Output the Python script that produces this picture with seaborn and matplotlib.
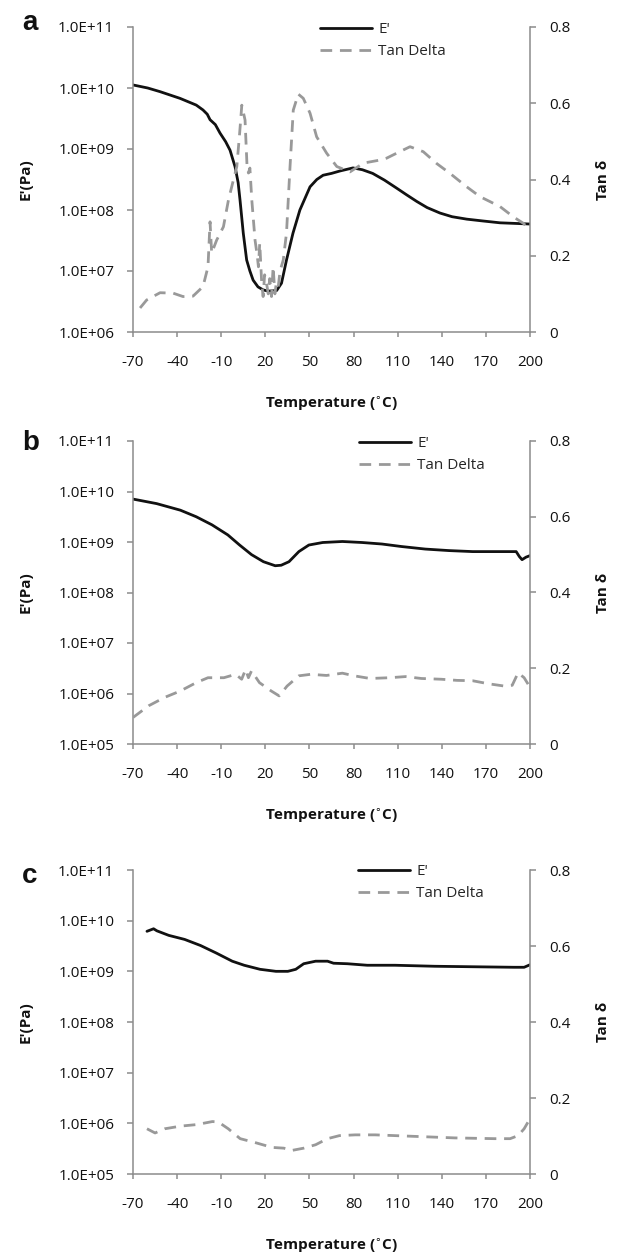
import numpy as np
import pandas as pd
import matplotlib
matplotlib.use("Agg")
import matplotlib.pyplot as plt
import seaborn as sns
from matplotlib.ticker import FixedLocator, FuncFormatter

sns.set_theme(style="white")
plt.rcParams["font.family"] = ["Open Sans", "DejaVu Sans"]

# ---------------- data ----------------
temp_ticks = [-70, -40, -10, 20, 50, 80, 110, 140, 170, 200]
tan_ticks = [0, 0.2, 0.4, 0.6, 0.8]

# panel a
a_E_T = [-70, -60, -51.6, -38, -27, -22.4, -19.5, -17.6, -14, -10.8, -7, -4, -0.6, 1.5, 2.8,
         5, 7.3, 9.5, 11.7, 15, 18.5, 22, 27.7, 31, 34.4, 38.8, 43.5, 50.4, 55, 59.3, 65,
         70.8, 79.6, 86, 93, 101, 109.2, 116, 123, 130, 138.8, 147, 157, 168, 179.6, 190, 200]
a_E_log = [10.05, 10.0, 9.94, 9.83, 9.72, 9.64, 9.57, 9.48, 9.40, 9.26, 9.12, 8.98, 8.71,
           8.45, 8.16, 7.62, 7.18, 7.0, 6.85, 6.74, 6.69, 6.67, 6.68, 6.80, 7.18, 7.62, 8.0,
           8.38, 8.50, 8.57, 8.60, 8.64, 8.69, 8.66, 8.60, 8.49, 8.36, 8.25, 8.14, 8.04, 7.95,
           7.89, 7.85, 7.82, 7.79, 7.78, 7.77]
a_tan_T = [-65.2, -60.7, -51.6, -42.8, -36, -29.2, -22.4, -19, -17.6, -16.5, -13.1, -8.5, -5.1,
           -1.7, 0.6, 2.5, 4, 6.2, 7.5, 8.5, 9.5, 10.8, 13, 14.5, 15.3, 16.2, 17.5, 18.5, 19.5,
           20.8, 22, 23, 24.2, 25.3, 26.5, 27.5, 28.8, 30, 32.2, 34.4, 36.8, 39, 42.4, 45.8,
           50.4, 54.9, 61.7, 68.6, 77.6, 86.7, 98, 102.5, 109.3, 118.4, 127.4, 136.5, 145.6,
           156.9, 166, 179.6, 188.7, 195.5, 200]
a_tan = [0.063, 0.084, 0.103, 0.102, 0.093, 0.094, 0.119, 0.171, 0.289, 0.207, 0.241, 0.276,
         0.346, 0.399, 0.434, 0.52, 0.595, 0.556, 0.44, 0.417, 0.43, 0.346, 0.241, 0.20, 0.171,
         0.233, 0.13, 0.093, 0.15, 0.128, 0.10, 0.14, 0.093, 0.171, 0.10, 0.13, 0.119, 0.16,
         0.189, 0.26, 0.434, 0.582, 0.624, 0.613, 0.574, 0.512, 0.469, 0.434, 0.42, 0.443,
         0.451, 0.456, 0.469, 0.486, 0.473, 0.442, 0.416, 0.381, 0.355, 0.329, 0.302, 0.285,
         0.268]

# panel b
b_E_T = [-70, -53.9, -37.8, -27, -16.3, -5.5, 2.5, 10.6, 18.7, 26.7, 30.8, 36.1, 42.8, 49.6,
         59, 72.4, 85.8, 99.3, 112.7, 128.8, 144.9, 161, 174.5, 190.6, 192.8, 194.6, 197.3, 200]
b_E_log = [9.85, 9.76, 9.63, 9.50, 9.34, 9.14, 8.94, 8.75, 8.61, 8.53, 8.54, 8.61, 8.81, 8.94,
           8.99, 9.01, 8.99, 8.96, 8.91, 8.86, 8.83, 8.81, 8.81, 8.81, 8.71, 8.65, 8.70, 8.73]
b_tan_T = [-70, -59.3, -48.5, -37.8, -27, -19, -8.2, -0.2, 3.9, 6.6, 8.5, 10.6, 16, 24, 29.4,
           34.8, 42.8, 50.9, 61.6, 72.4, 80.4, 91.2, 104.6, 115.4, 126.1, 139.6, 150.3, 161,
           171.8, 182.5, 187.9, 191.9, 196, 198.7]
b_tan = [0.070, 0.101, 0.123, 0.140, 0.162, 0.175, 0.175, 0.184, 0.171, 0.197, 0.175, 0.193,
         0.162, 0.140, 0.127, 0.153, 0.180, 0.184, 0.181, 0.187, 0.180, 0.173, 0.175, 0.178,
         0.173, 0.171, 0.168, 0.167, 0.159, 0.153, 0.155, 0.188, 0.175, 0.158]

# panel c
c_E_T = [-60.5, -56, -53.8, -45.7, -34.9, -24.1, -13.3, -2.5, 5.6, 16.4, 27.2, 35.3, 40.7,
         46.1, 54.2, 62.3, 66.4, 75.8, 89.3, 108.2, 135.2, 162.2, 189.2, 196, 200]
c_E_log = [9.79, 9.84, 9.80, 9.71, 9.63, 9.51, 9.36, 9.20, 9.12, 9.04, 9.00, 9.00, 9.04, 9.15,
           9.20, 9.20, 9.16, 9.15, 9.12, 9.12, 9.10, 9.09, 9.08, 9.08, 9.13]
c_tan_T = [-60.5, -55, -48.4, -37.6, -26.8, -16, -12, -5.2, 2.9, 13.7, 24.5, 32.6, 38, 46.1,
           54.2, 62.3, 70.4, 81.2, 94.7, 108.2, 121.7, 135.2, 148.7, 162.2, 175.7, 186.5,
           191.9, 196, 198.7]
c_tan = [0.119, 0.108, 0.119, 0.126, 0.130, 0.138, 0.137, 0.119, 0.093, 0.082, 0.070, 0.068,
         0.062, 0.068, 0.077, 0.093, 0.101, 0.103, 0.103, 0.101, 0.099, 0.097, 0.095, 0.094,
         0.093, 0.093, 0.101, 0.119, 0.137]

panels = [
    dict(letter="a", E_T=a_E_T, E_log=a_E_log, tan_T=a_tan_T, tan=a_tan, ymin_exp=6,
         top=27, bottom=332, leg=(320, 22)),
    dict(letter="b", E_T=b_E_T, E_log=b_E_log, tan_T=b_tan_T, tan=b_tan, ymin_exp=5,
         top=441, bottom=744, leg=(359, 436)),
    dict(letter="c", E_T=c_E_T, E_log=c_E_log, tan_T=c_tan_T, tan=c_tan, ymin_exp=5,
         top=870, bottom=1174, leg=(358, 864)),
]

W, H = 620, 1256
fig = plt.figure(figsize=(W / 100, H / 100), dpi=100)
LEFT, RIGHT = 133, 530
SPINE = "#8c8c8c"
FS = 11

def sci(v, pos):
    e = int(round(np.log10(v)))
    return f"1.0E+{e:02d}"

for p in panels:
    h = p["bottom"] - p["top"]
    ax = fig.add_axes([LEFT / W, 1 - p["bottom"] / H, (RIGHT - LEFT) / W, h / H])
    ax2 = ax.twinx()
    dfE = pd.DataFrame({"T": p["E_T"], "E": 10 ** np.array(p["E_log"])})
    dft = pd.DataFrame({"T": p["tan_T"], "tan": p["tan"]})
    sns.lineplot(data=dfE, x="T", y="E", ax=ax, color="#111111", lw=2.0, sort=False,
                 label="E'", legend=False)
    sns.lineplot(data=dft, x="T", y="tan", ax=ax2, color="#999999", lw=2.0, sort=False,
                 label="Tan Delta", legend=False)
    ax2.lines[-1].set_dashes((4.2, 2.8))
    ax.set_yscale("log")
    ax.set_ylim(10 ** p["ymin_exp"], 1e11)
    ax.set_xlim(-70, 200)
    ax2.set_ylim(0, 0.8)
    ax.yaxis.set_major_locator(FixedLocator([10.0 ** e for e in range(p["ymin_exp"], 12)]))
    ax.yaxis.set_minor_locator(FixedLocator([]))
    ax.yaxis.set_major_formatter(FuncFormatter(sci))
    ax.xaxis.set_major_locator(FixedLocator(temp_ticks))
    ax.set_xticklabels([str(t) for t in temp_ticks])
    ax2.yaxis.set_major_locator(FixedLocator(tan_ticks))
    ax2.set_yticklabels(["0", "0.2", "0.4", "0.6", "0.8"])
    for a_ in (ax, ax2):
        for s in a_.spines.values():
            s.set_color(SPINE)
            s.set_linewidth(1.1)
        a_.spines["top"].set_visible(False)
        a_.grid(False)
        a_.set_facecolor("none")
    ax.spines["right"].set_visible(False)
    ax2.spines["left"].set_visible(False)
    ax2.spines["bottom"].set_visible(False)
    ax.tick_params(axis="y", which="both", left=True, direction="out", length=4.5, width=1.1,
                   color=SPINE, pad=9, labelsize=FS, labelcolor="#111111")
    ax.tick_params(axis="x", bottom=True, direction="out", length=3.5, width=1.1,
                   color=SPINE, pad=13, labelsize=FS, labelcolor="#111111")
    ax2.tick_params(axis="y", right=True, direction="out", length=4.5, width=1.1,
                    color=SPINE, pad=9, labelsize=FS, labelcolor="#111111")
    ax.set_xlabel("Temperature ($^{\\circ}$C)", fontsize=FS, fontweight="bold", color="#111111")
    ax.xaxis.set_label_coords(0.5, -63 / h)
    ax.set_ylabel("E'(Pa)", fontsize=FS, fontweight="bold", color="#111111")
    ax.yaxis.set_label_coords((33 - LEFT) / (RIGHT - LEFT), 0.5)
    ax2.set_ylabel("Tan δ", fontsize=FS, fontweight="bold", color="#111111")
    ax2.yaxis.set_label_coords((596 - LEFT) / (RIGHT - LEFT), 0.5)
    handles = [ax.lines[0], ax2.lines[-1]]
    lx, ly = p["leg"]
    ax2.legend(handles=handles, labels=["E'", "Tan Delta"], loc="upper left",
               bbox_to_anchor=(lx / W, 1 - ly / H), bbox_transform=fig.transFigure,
               frameon=False, fontsize=FS, handlelength=3.4, handletextpad=0.4,
               labelspacing=0.45, borderpad=0, borderaxespad=0)
    base = {"a": 30, "b": 450, "c": 883}[p["letter"]]
    fig.text(22 / W, 1 - base / H, p["letter"], fontsize=20, fontweight="bold",
             family=["Liberation Sans", "DejaVu Sans"], ha="left", va="baseline", color="#111111")

fig.savefig("out.png", dpi=100)
